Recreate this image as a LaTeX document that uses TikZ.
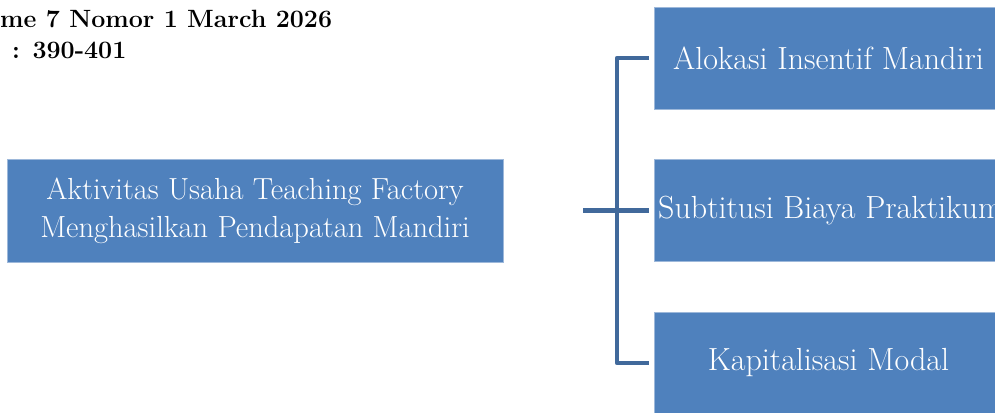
\documentclass[tikz,border=0pt]{standalone}
\usepackage{fontspec}
\definecolor{boxfill}{HTML}{4F81BD}
\definecolor{boxedge}{HTML}{9DB8DA}
\definecolor{connc}{HTML}{41699B}
\begin{document}
\begin{tikzpicture}[x=1pt,y=-1pt,
  box/.style={rectangle, fill=boxfill, draw=boxedge, line width=0.8pt, text=white, align=center, inner sep=0pt, font=\fontsize{32}{38}\selectfont},
  conn/.style={draw=connc, line width=4.5pt, line join=round},
  head/.style={anchor=base west, inner sep=0pt, font=\fontsize{25}{27}\selectfont\bfseries}]
\useasboundingbox (0,0) rectangle (995,412);
\begin{scope}
\clip (0,0) rectangle (995,412);
\node[box, minimum width=496pt, minimum height=103pt, font=\fontsize{30.5}{38}\selectfont] (main) at (255,210.5) {Aktivitas Usaha Teaching Factory\\Menghasilkan Pendapatan Mandiri};
\node[box, minimum width=349pt, minimum height=102pt] (b1) at (828.5,58) {Alokasi Insentif Mandiri};
\node[box, minimum width=349pt, minimum height=102pt] (b2) at (828.5,210.5) {};
\node[anchor=west, text=white, inner sep=0pt, font=\fontsize{32}{38}\selectfont] (t2) at (658,210.5) {Subtitusi Biaya Praktikum};
\node[box, minimum width=349pt, minimum height=102pt] (b3) at (828.5,363) {Kapitalisasi Modal};
\node[head] (h1) at (0,28) {me 7 Nomor 1 March 2026};
\node[head] (h2) at (12,59) {: 390-401};
\end{scope}
\coordinate (jL) at (583,210.5);
\coordinate (jM) at (617,210.5);
\draw[conn] (jL) -- ([xshift=-5pt]b2.west);
\draw[conn] ([xshift=-5pt]b1.west) -- (jM |- b1.west) -- (jM |- b3.west) -- ([xshift=-5pt]b3.west);
\end{tikzpicture}
\end{document}
